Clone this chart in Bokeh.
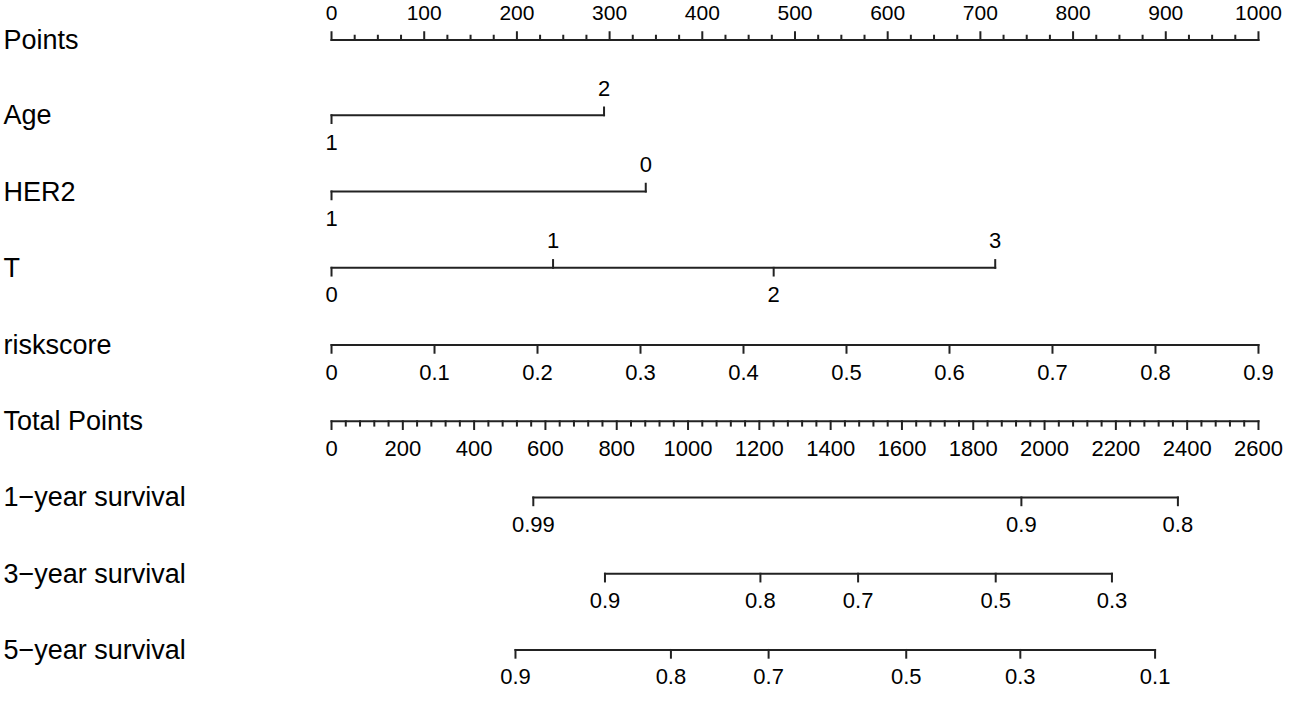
from bokeh.plotting import figure
from bokeh.models import Range1d
from bokeh.core.properties import value
from bokeh.embed import file_html
from bokeh.resources import INLINE

# ---------------- data ----------------
row_names = ["Points", "Age", "HER2", "T", "riskscore", "Total Points",
             "1\u2212year survival", "3\u2212year survival", "5\u2212year survival"]

points_major = list(range(0, 1001, 100))
points_minor = list(range(0, 1001, 25))

age_levels = ["1", "2"]
age_points = [0, 294]

her2_levels = ["1", "0"]
her2_points = [0, 339]

t_levels = ["0", "1", "2", "3"]
t_points = [0, 239, 477, 716]

risk_values = [0, 0.1, 0.2, 0.3, 0.4, 0.5, 0.6, 0.7, 0.8, 0.9]
risk_labels = ["0", "0.1", "0.2", "0.3", "0.4", "0.5", "0.6", "0.7", "0.8", "0.9"]
risk_points_at_max = 1000   # points for riskscore 0.9
risk_max = 0.9

total_major = list(range(0, 2601, 200))
total_minor = list(range(0, 2601, 40))
total_max = 2600

surv1_labels = ["0.99", "0.9", "0.8"]
surv1_total = [566, 1935, 2374]

surv3_labels = ["0.9", "0.8", "0.7", "0.5", "0.3"]
surv3_total = [767, 1203, 1477, 1863, 2189]

surv5_labels = ["0.9", "0.8", "0.7", "0.5", "0.3", "0.1"]
surv5_total = [516, 952, 1226, 1612, 1932, 2310]

# ---------------- layout ----------------
W, H = 1283, 690
row_y = [37, 115, 194, 273, 353, 432, 511, 590, 669]
MAJ, MIN = 8, 4.5
LAB = 28
COL = "#222222"
FONT = "Liberation Sans"
XS, XE = -357.1, 1027.0

p = figure(width=W, height=H, output_backend="svg", toolbar_location=None,
           x_range=Range1d(XS, XE), y_range=Range1d(711, -4),
           min_border=0, min_border_left=0, min_border_right=0,
           min_border_top=0, min_border_bottom=0)
p.axis.visible = False
p.grid.visible = False
p.outline_line_color = None
p.background_fill_color = "white"
p.border_fill_color = "white"

seg = dict(x0=[], y0=[], x1=[], y1=[])
txt = dict(x=[], y=[], t=[])
txt_small = dict(x=[], y=[], t=[])


def add_seg(x0, y0, x1, y1):
    seg["x0"].append(x0); seg["y0"].append(y0)
    seg["x1"].append(x1); seg["y1"].append(y1)


def add_axis(y, xs, labels, side, minor_xs=(), store=txt):
    allx = list(xs) + list(minor_xs)
    add_seg(min(allx), y, max(allx), y)
    sgn = -1 if side == "above" else 1
    for x in minor_xs:
        add_seg(x, y, x, y + sgn * MIN)
    for x, lab in zip(xs, labels):
        add_seg(x, y, x, y + sgn * MAJ)
        store["x"].append(x); store["y"].append(y + sgn * LAB); store["t"].append(lab)


def add_cat(y, xs, labels):
    add_seg(min(xs), y, max(xs), y)
    for i, (x, lab) in enumerate(zip(xs, labels)):
        sgn = 1 if i % 2 == 0 else -1
        add_seg(x, y, x, y + sgn * MAJ)
        txt["x"].append(x); txt["y"].append(y + sgn * LAB); txt["t"].append(lab)


def tp(v):
    return v * 1000 / total_max


# Points
add_axis(row_y[0], points_major, [str(v) for v in points_major], "above",
         minor_xs=[v for v in points_minor if v % 100], store=txt_small)
# categorical rows
add_cat(row_y[1], age_points, age_levels)
add_cat(row_y[2], her2_points, her2_levels)
add_cat(row_y[3], t_points, t_levels)
# riskscore
add_axis(row_y[4], [v / risk_max * risk_points_at_max for v in risk_values], risk_labels, "below")
# Total points
add_axis(row_y[5], [tp(v) for v in total_major], [str(v) for v in total_major], "below",
         minor_xs=[tp(v) for v in total_minor if v % 200])
# survival
add_axis(row_y[6], [tp(v) for v in surv1_total], surv1_labels, "below")
add_axis(row_y[7], [tp(v) for v in surv3_total], surv3_labels, "below")
add_axis(row_y[8], [tp(v) for v in surv5_total], surv5_labels, "below")

p.segment(x0="x0", y0="y0", x1="x1", y1="y1", source=seg,
          line_color=COL, line_width=2, line_cap="square")

p.text(x="x", y="y", text="t", source=txt, text_align="center",
       text_baseline="middle", text_font=value(FONT), text_font_size="22px",
       text_color="black")
p.text(x="x", y="y", text="t", source=txt_small, text_align="center",
       text_baseline="middle", text_font=value(FONT), text_font_size="21px",
       text_color="black")

p.text(x=[XS + 3 / 0.927] * len(row_names), y=row_y, text=row_names, text_align="left",
       text_baseline="middle", text_font=value(FONT), text_font_size="27px",
       text_color="black")

open("out.html", "w").write(file_html(p, INLINE))
